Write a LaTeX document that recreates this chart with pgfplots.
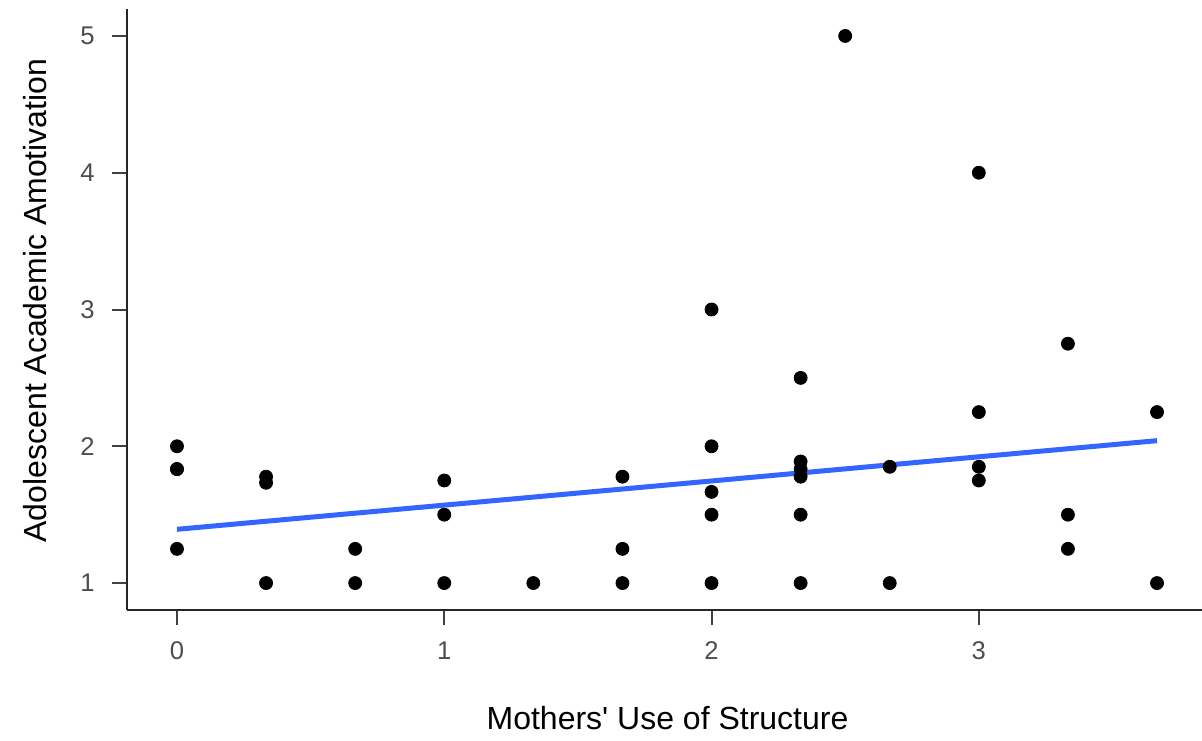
\documentclass[border=0pt]{standalone}
\usepackage{fontspec}
\setmainfont{Liberation Sans}[Ligatures=TeXOff]
\usepackage{pgfplots}
\pgfplotsset{compat=1.18}
\definecolor{ggblue}{HTML}{3366FF}
\definecolor{ticktxt}{HTML}{4D4D4D}
\begin{document}
\begin{tikzpicture}
\useasboundingbox (-63.5pt,-65pt) rectangle (537.5pt,305pt);
\begin{axis}[
  at={(0,0)}, anchor=south west,
  scale only axis, width=537.5pt, height=300.5pt,
  xmin=-0.187, xmax=3.835, ymin=0.803, ymax=5.197,
  axis x line=bottom, axis y line=left,
  axis line style={-, line width=1.1pt, color=black!85},
  xtick={0,1,2,3}, ytick={1,2,3,4,5},
  tick align=outside, major tick length=7.5pt,
  tick style={line width=1pt, color=black!75},
  /pgf/number format/assume math mode=true,
  ticklabel style={font=\fontsize{12.8}{14}\selectfont, color=ticktxt},
  xticklabel style={yshift=-4.7pt},
  yticklabel style={xshift=-5.2pt},
  xlabel={Mothers' Use of Structure},
  ylabel={Adolescent Academic Amotivation},
  label style={font=\fontsize{16}{18}\selectfont, color=black},
  xlabel style={at={(axis description cs:0.5028,-0.1797)}, anchor=center},
  ylabel style={at={(axis description cs:-0.0856,0.515)}, anchor=center, rotate=0},
  clip=false,
]
\addplot[only marks, mark=*, mark size=3.25pt, color=black] coordinates {
  (0,2) (0,1.8333) (0,1.8333) (0,1.25)
  (0.3333,1.7778) (0.3333,1.7333) (0.3333,1)
  (0.6667,1.25) (0.6667,1)
  (1,1.75) (1,1.5) (1,1)
  (1.3333,1)
  (1.6667,1.7778) (1.6667,1.25) (1.6667,1)
  (2,3) (2,2) (2,1.6667) (2,1.5) (2,1)
  (2.3333,2.5) (2.3333,1.8889) (2.3333,1.8333) (2.3333,1.7778) (2.3333,1.5) (2.3333,1)
  (2.5,5)
  (2.6667,1.85) (2.6667,1)
  (3,4) (3,2.25) (3,1.85) (3,1.75)
  (3.3333,2.75) (3.3333,1.5) (3.3333,1.25)
  (3.6667,2.25) (3.6667,1)
};
\addplot[color=ggblue, line width=2.5pt, no marks] coordinates {(0,1.393) (3.6667,2.041)};
\end{axis}
\end{tikzpicture}
\end{document}
